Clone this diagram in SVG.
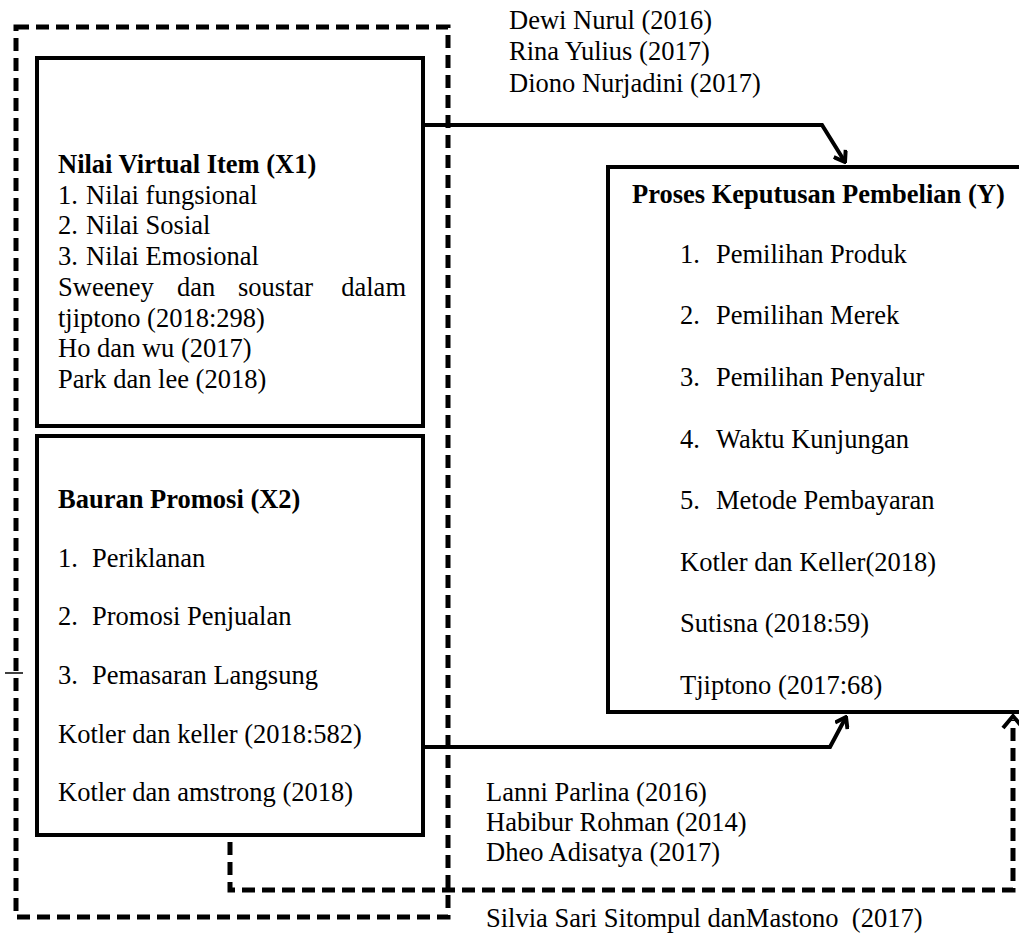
<svg xmlns="http://www.w3.org/2000/svg" width="1019" height="945" viewBox="0 0 1019 945">
<style>
text{font-family:"Liberation Serif","Times New Roman",serif;font-size:26.5px;fill:#000}
.b{font-weight:bold}
.box{fill:none;stroke:#000;stroke-width:4}
.dash{fill:none;stroke:#000;stroke-width:5;stroke-dasharray:13 7}
.conn{fill:none;stroke:#000;stroke-width:4;stroke-linejoin:miter}
</style>
<defs>
<marker id="arr" viewBox="-12 -8 14 16" markerWidth="14" markerHeight="16" refX="0" refY="0" orient="auto" markerUnits="userSpaceOnUse">
<path d="M-10,-7 L0,0 L-10,7" fill="none" stroke="#000" stroke-width="4"/>
</marker>
</defs>
<rect width="1019" height="945" fill="#fff"/>
<g id="outer-frame">
<rect class="dash" x="16" y="27" width="432" height="890"/>
</g>
<g id="x1">
<rect class="box" x="37" y="58" width="386" height="368"/>
<text class="b" x="58" y="173">Nilai Virtual Item (X1)</text>
<text x="58" y="204">1.</text><text x="86" y="204">Nilai fungsional</text>
<text x="58" y="234">2.</text><text x="86" y="234">Nilai Sosial</text>
<text x="58" y="265">3.</text><text x="86" y="265">Nilai Emosional</text>
<text y="296"><tspan x="58">Sweeney</tspan><tspan x="177">dan</tspan><tspan x="238">soustar</tspan><tspan x="406" text-anchor="end">dalam</tspan></text>
<text x="58" y="327">tjiptono (2018:298)</text>
<text x="58" y="357">Ho dan wu (2017)</text>
<text x="58" y="388">Park dan lee (2018)</text>
</g>
<g id="x2">
<rect class="box" x="37" y="436" width="386" height="399"/>
<text class="b" x="58" y="508">Bauran Promosi (X2)</text>
<text x="58" y="567">1.</text><text x="92" y="567">Periklanan</text>
<text x="58" y="625">2.</text><text x="92" y="625">Promosi Penjualan</text>
<text x="58" y="684">3.</text><text x="92" y="684">Pemasaran Langsung</text>
<text x="58" y="743">Kotler dan keller (2018:582)</text>
<text x="58" y="801">Kotler dan amstrong (2018)</text>
</g>
<g id="y">
<rect class="box" x="608" y="167" width="420" height="545"/>
<text class="b" x="632" y="203">Proses Keputusan Pembelian (Y)</text>
<text x="680" y="263">1.</text><text x="716" y="263">Pemilihan Produk</text>
<text x="680" y="324">2.</text><text x="716" y="324">Pemilihan Merek</text>
<text x="680" y="386">3.</text><text x="716" y="386">Pemilihan Penyalur</text>
<text x="680" y="448">4.</text><text x="716" y="448">Waktu Kunjungan</text>
<text x="680" y="509">5.</text><text x="716" y="509">Metode Pembayaran</text>
<text x="680" y="571">Kotler dan Keller(2018)</text>
<text x="680" y="632">Sutisna (2018:59)</text>
<text x="680" y="694">Tjiptono (2017:68)</text>
</g>
<g id="connectors">
<path class="conn" d="M423,125 L822,125 L845,162" marker-end="url(#arr)"/>
<path class="conn" d="M423,747 L830,747 L846,717" marker-end="url(#arr)"/>
<path class="dash" d="M230,842 L230,890 L1013,890 L1013,720"/>
<path class="conn" d="M1003,728 L1013,716 L1023,728"/>
<path d="M5,673 L23,673" stroke="#000" stroke-width="1.5"/>
</g>
<g id="labels">
<text x="509" y="29">Dewi Nurul (2016)</text>
<text x="509" y="60">Rina Yulius (2017)</text>
<text x="509" y="92">Diono Nurjadini (2017)</text>
<text x="486" y="801">Lanni Parlina (2016)</text>
<text x="486" y="831">Habibur Rohman (2014)</text>
<text x="486" y="861">Dheo Adisatya (2017)</text>
<text x="486" y="927" xml:space="preserve">Silvia Sari Sitompul danMastono  (2017)</text>
</g>
</svg>
